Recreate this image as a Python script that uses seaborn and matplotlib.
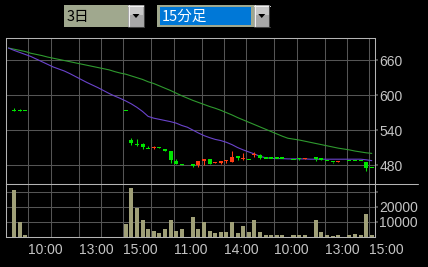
import matplotlib
matplotlib.use("Agg")
import matplotlib.pyplot as plt
import seaborn as sns
import pandas as pd
from matplotlib.patches import Rectangle, Polygon
from matplotlib.lines import Line2D

# ---------------- data ----------------
period_label = "3日"
interval_label = "15分足"

slots = list(range(66))  # 3 days x 22 fifteen-minute slots

time_tick_slots = [4, 13, 21, 30, 39, 48, 57, 65]
time_tick_labels = ["10:00", "13:00", "15:00", "11:00", "14:00", "10:00", "13:00", "15:00"]
minor_grid_slots = [8, 17, 26, 35, 43, 52, 61]

price_ticks = [480, 540, 600, 660]
volume_grid_ticks = [10000, 20000, 30000]
volume_tick_labels = ["10000", "20000", ""]

candle_slots = [1, 2, 3, 21, 22, 23, 24, 25, 26, 27, 28, 29, 30, 31, 33, 34, 35, 36, 37, 38,
                39, 40, 41, 42, 43, 44, 45, 46, 47, 48, 49, 51, 52, 53, 55, 56, 57, 58, 59,
                61, 62, 63, 64, 65]
opens = [573, 573, 573, 573, 523, 515, 516, 509, 510.5, 511, 507, 504, 487, 482, 480, 480, 487.5,
         490, 483, 483, 487, 485, 495, 491.5, 489, 497, 497, 492, 492, 492, 492, 490, 492, 491,
         494, 492, 487, 486, 486, 487, 487, 487, 486, 475]
highs = [578, 576, 573, 573, 526, 525, 518, 512, 513, 511, 507, 504, 490, 482, 480, 487, 490,
         490, 485, 487, 489, 504, 495, 500, 489, 502, 499, 492, 492, 492, 492, 490, 492, 492,
         494, 492, 487, 486, 487, 487, 487, 487, 486, 475]
lows = [573, 573, 573, 573, 514, 513, 507, 509, 507, 509, 504, 483, 482, 480, 476, 477, 480,
        482, 483, 482, 483, 485, 489, 489, 489, 494, 490, 492, 492, 492, 492, 490, 488, 491,
        487, 489, 487, 484, 486, 487, 487, 487, 470, 475]
closes = [573, 573, 573, 573, 517, 515, 511, 509, 511, 509, 504, 489, 482, 480, 480, 487, 490,
          482, 485, 487, 489, 494, 492, 492, 489, 499, 492, 492, 492, 492, 492, 490, 490, 492,
          490, 489, 487, 486, 487, 487, 487, 487, 475, 475]

volumes = [0, 30700, 9500, 700, 0, 0, 0, 0, 0, 0,
           0, 0, 0, 0, 0, 0, 0, 0, 0, 0,
           0, 8200, 32200, 18700, 10700, 4700, 4000, 2200, 5300, 10700,
           4000, 5300, 0, 12700, 5300, 9500, 4000, 2200, 3300, 3300,
           9500, 2200, 6700, 3300, 10700, 2700, 700, 1300, 700, 700,
           0, 700, 700, 700, 0, 10700, 2700, 700, 100, 1300,
           0, 700, 2000, 700, 14700, 1300]

ma_long = [681, 679, 677, 675, 672, 670, 668, 665.5, 663.5, 661.5,
           659.5, 657.5, 655.5, 653.5, 651.5, 649.5, 647.5, 645.5, 643.5, 640.5,
           638, 636, 633, 630, 627, 623, 620, 616, 612, 608,
           603.5, 599, 595, 591, 587.5, 584, 580.5, 577.5, 574, 570,
           566, 561.5, 557.5, 553.5, 549.5, 545.5, 541.5, 537.5, 533.5, 529.5,
           526, 524.5, 523, 521, 519, 517, 515, 513, 511, 509,
           507.5, 506, 504, 502.5, 501, 500]
ma_short = [681, 677, 673.5, 670, 666.5, 662, 657.5, 653, 648.5, 645,
            641.5, 637, 632, 627, 622, 617.5, 613, 608, 603, 598.5,
            594.5, 590, 585, 579, 572, 563.5, 560.5, 558.5, 556.5, 554.5,
            552, 548, 545, 540, 535, 530.5, 527, 524, 522, 519,
            515, 510, 506, 502.5, 499, 495, 492.5, 491.5, 491, 491,
            490.5, 490.5, 490.5, 490.5, 490, 490, 490, 490, 490, 490,
            490, 490, 490, 490, 489, 487.5]

# ---------------- style ----------------
sns.set_theme(style="dark", rc={"axes.facecolor": "black", "figure.facecolor": "black"})
plt.rcParams["font.family"] = ["Liberation Sans", "DejaVu Sans"]
LBL_SIZE = 10

GRID = "#555555"
SPINE = "#b4b4b4"
TXT = "#c4c4c4"
UP = "#ff3c14"
DOWN = "#00e400"
VOLC = "#a0a078"
MA_S = "#6a44cc"
MA_L = "#2f9a2f"

W, H = 428, 267
fig = plt.figure(figsize=(W / 100, H / 100), dpi=100, facecolor="black")


def fx(x):
    return x / W


def fy(y):
    return 1 - y / H


ax_p = fig.add_axes([fx(6), fy(184), (375 - 6) / W, (184 - 38) / H])
ax_v = fig.add_axes([fx(6), fy(236.5), (375 - 6) / W, (236.5 - 184) / H], sharex=ax_p)

df = pd.DataFrame({"slot": slots, "ma_long": ma_long, "ma_short": ma_short, "volume": volumes})

# moving averages
sns.lineplot(data=df, x="slot", y="ma_long", ax=ax_p, color=MA_L, linewidth=0.8, zorder=3)
sns.lineplot(data=df, x="slot", y="ma_short", ax=ax_p, color=MA_S, linewidth=0.8, zorder=3)

# candles
px_per_unit = 1.714
min_body = 1.1 * px_per_unit
for s, o, h, l, c in zip(candle_slots, opens, highs, lows, closes):
    col = UP if c > o else DOWN
    if h > l:
        ax_p.vlines(s, l, h, color=col, linewidth=0.75, zorder=4)
    lo, hi = min(o, c), max(o, c)
    if hi - lo < min_body:
        mid = (hi + lo) / 2
        lo, hi = mid - min_body / 2, mid + min_body / 2
    ax_p.bar(s, hi - lo, bottom=lo, width=0.72, color=col, linewidth=0, zorder=5)

# volume
sns.barplot(data=df, x="slot", y="volume", ax=ax_v, native_scale=True, width=0.72,
            color=VOLC, saturation=1, linewidth=0, errorbar=None, zorder=3)

# axes setup
grid_pos = sorted([s - 0.45 for s in time_tick_slots + minor_grid_slots])
label_map = {s - 0.45: lab for s, lab in zip(time_tick_slots, time_tick_labels)}
for ax in (ax_p, ax_v):
    ax.set_facecolor("black")
    ax.set_xlim(-0.43, 65.58)
    ax.set_xlabel("")
    ax.set_ylabel("")
    ax.grid(True, color=GRID, linewidth=0.75, zorder=0)
    ax.set_axisbelow(True)
    for sp in ax.spines.values():
        sp.set_visible(True)
        sp.set_color(SPINE)
        sp.set_linewidth(0.75)
    ax.yaxis.tick_right()

ax_p.set_xticks(grid_pos)
ax_v.set_xticks(grid_pos)
ax_v.set_xticklabels([label_map.get(p, "") for p in grid_pos], ha="left")
ax_p.tick_params(axis="x", labelbottom=False, length=0)
ax_v.tick_params(axis="x", colors=GRID, labelcolor=TXT, labelsize=LBL_SIZE, length=1.5, pad=3.0)

ax_p.set_ylim(447.4, 698.2)
ax_p.set_yticks(price_ticks)
ax_p.set_yticklabels([str(v) for v in price_ticks])
ax_p.tick_params(axis="y", colors=GRID, labelcolor=TXT, labelsize=LBL_SIZE, length=2.2, pad=0.8,
                 right=True, left=False, labelright=True, labelleft=False)

ax_v.set_ylim(0, 35000)
ax_v.set_yticks(volume_grid_ticks)
ax_v.set_yticklabels(volume_tick_labels)
ax_v.tick_params(axis="y", colors=GRID, labelcolor=TXT, labelsize=LBL_SIZE, length=2.2, pad=0.8,
                 right=True, left=False, labelright=True, labelleft=False)

# separator line extending past the axis
fig.add_artist(Line2D([fx(375), fx(418)], [fy(184), fy(184)], transform=fig.transFigure,
                      color=SPINE, linewidth=0.75))


# ---------------- selector widgets ----------------
def rect(x0, y0, x1, y1, color, z=5):
    fig.add_artist(Rectangle((fx(x0), fy(y1)), (x1 - x0) / W, (y1 - y0) / H,
                             transform=fig.transFigure, facecolor=color, edgecolor="none", zorder=z))


def hline(x0, x1, y, color):
    fig.add_artist(Line2D([fx(x0), fx(x1)], [fy(y), fy(y)], transform=fig.transFigure,
                          color=color, linewidth=0.75, zorder=7))


def vline(x, y0, y1, color):
    fig.add_artist(Line2D([fx(x), fx(x)], [fy(y0), fy(y1)], transform=fig.transFigure,
                          color=color, linewidth=0.75, zorder=7))


def button(x0, x1):
    rect(x0, 5, x1, 27, "#a8a8a8", z=6)
    rect(x0 + 1, 6, x1 - 1, 15, "#c8c8c8", z=6)
    hline(x0, x1, 5.5, "#f0f0f0")
    vline(x0 + 0.5, 5, 27, "#f0f0f0")
    hline(x0, x1, 26.5, "#404040")
    vline(x1 - 0.5, 5, 27, "#404040")
    cx = (x0 + x1) / 2
    fig.add_artist(Polygon([(fx(cx - 3.5), fy(14)), (fx(cx + 3.5), fy(14)), (fx(cx), fy(18))],
                           closed=True, transform=fig.transFigure, facecolor="black",
                           edgecolor="none", zorder=8))


CJK = ["Noto Sans CJK JP", "DejaVu Sans"]
rect(64, 5, 128, 27, "#a0a88e")
button(128, 144)
fig.text(fx(66.5), fy(16.5), period_label, color="black", fontsize=10.5, family=CJK,
         ha="left", va="center", zorder=9)

rect(157, 5, 254, 27, "#a0a88e")
rect(160, 7.5, 251, 24.5, "#0078d7", z=6)
button(254, 269.5)
fig.text(fx(161.5), fy(16.5), interval_label, color="white", fontsize=10.5, family=CJK,
         ha="left", va="center", zorder=9)

fig.savefig("out.png", dpi=100, facecolor="black")
